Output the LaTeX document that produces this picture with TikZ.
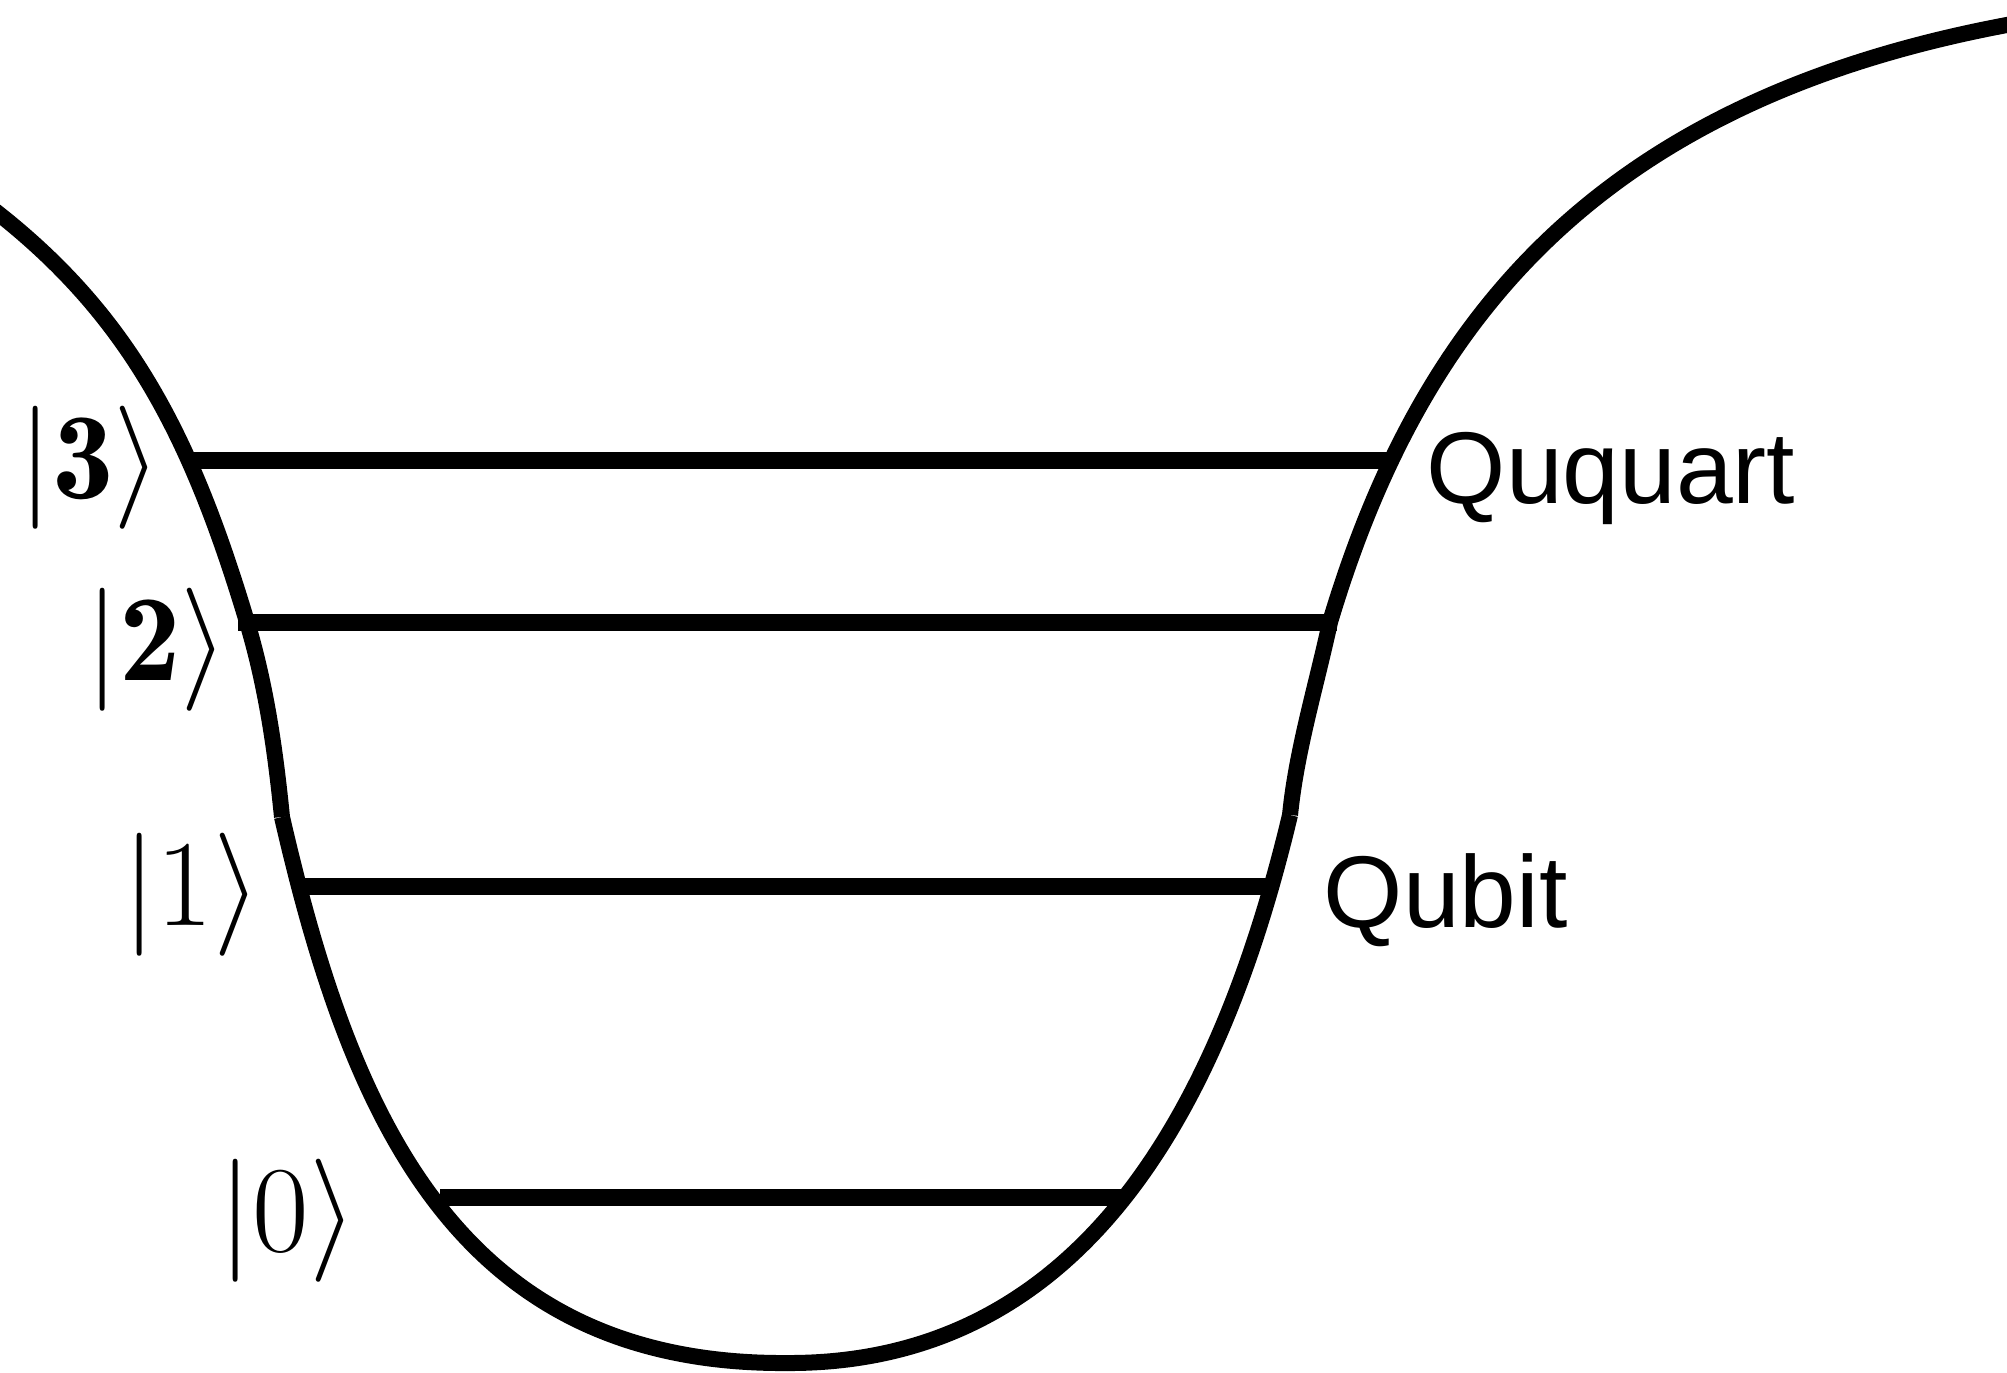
\RequirePackage{fix-cm}
\documentclass[tikz,border=0pt]{standalone}
\usepackage{fontspec}
\newfontfamily\helv{Liberation Sans}
\tikzset{
  well/.style={line width=0.16cm, line cap=butt, line join=round},
  level/.style={line width=0.17cm, line cap=butt},
  ket/.style={inner sep=0pt, font=\fontsize{35}{40}\selectfont},
  lab/.style={inner sep=0pt, anchor=base west, font=\helv\fontsize{29}{34}\selectfont}
}
\begin{document}
\begin{tikzpicture}[x=0.01cm, y=-0.01cm]
\useasboundingbox (0,0) rectangle (2007,1372);
\clip (0,0) rectangle (2007,1372);
% well walls (left)
\draw[well] (-40,185) .. controls (120,297) and (187,422) .. (247,622);
\draw[well] (247,622) .. controls (266.5,687) and (275.5,752) .. (282,817);
\draw[well] (282,817) .. controls (351,1117) and (457,1365) .. (787,1363);
% well walls (right)
\draw[well] (787,1363) .. controls (1070,1364) and (1215,1130) .. (1290,815);
\draw[well] (1290,815) .. controls (1296.5,750) and (1316,687) .. (1330,622);
\draw[well] (1330,622) .. controls (1420,322) and (1597,90) .. (2047,18);
% level end points
\coordinate (l3a) at (189,460);  \coordinate (l3b) at (1390,460);
\coordinate (l2a) at (238,622);  \coordinate (l2b) at (1337,622);
\coordinate (l1a) at (298,886);  \coordinate (l1b) at (1277,886);
\coordinate (l0a) at (440,1197); \coordinate (l0b) at (1124,1197);
\draw[level] (l3a) -- (l3b);
\draw[level] (l2a) -- (l2b);
\draw[level] (l1a) -- (l1b);
\draw[level] (l0a) -- (l0b);
% labels
\node[ket] (k3) at (90,468) {$|\mathbf{3}\rangle$};
\node[ket] (k2) at (157,650) {$|\mathbf{2}\rangle$};
\node[ket] (k1) at (192,895) {$|1\rangle$};
\node[ket] (k0) at (288,1221) {$|0\rangle$};
\node[lab] (qq) at (1426,503) {Ququart};
\node[lab] (qb) at (1323,927) {Qubit};
\end{tikzpicture}
\end{document}
